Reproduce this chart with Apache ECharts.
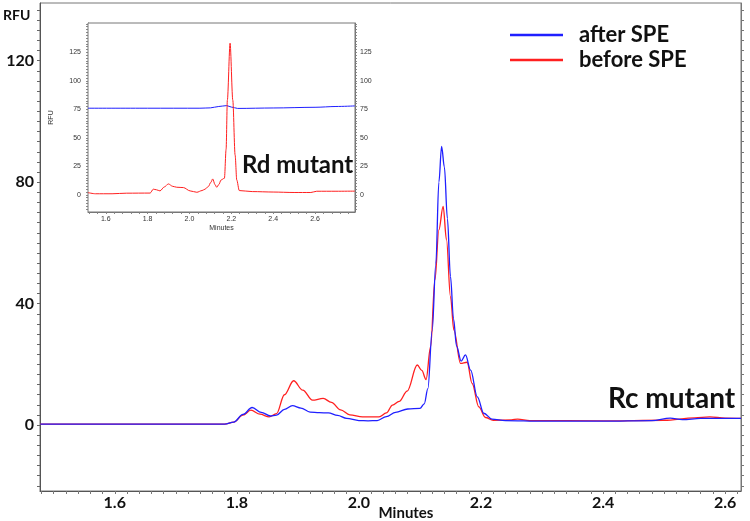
<!DOCTYPE html>
<html><head><meta charset="utf-8">
<script src="https://cdn.jsdelivr.net/npm/echarts@6/dist/echarts.min.js"></script>
<style>html,body{margin:0;padding:0;background:#fff}#c{width:750px;height:521px}</style>
</head><body><div id="c"></div>
<script>
// ---- Main chart data (Rc mutant) ----
const mainAfterX = [1.478,1.60,1.70,1.78,1.795,1.81,1.825,1.84,1.855,1.865,1.878,1.891,1.905,1.92,1.935,1.95,1.965,1.98,2.00,2.015,2.03,2.045,2.06,2.08,2.10,2.107,2.113,2.120,2.126,2.131,2.1355,2.140,2.145,2.150,2.155,2.160,2.1675,2.1746,2.183,2.194,2.2046,2.218,2.24,2.30,2.40,2.48,2.51,2.53,2.56,2.60,2.626];
const mainAfterY = [0.3,0.3,0.3,0.3,1.0,3.5,5.8,4.2,3.0,3.3,5.2,6.4,5.6,4.3,4.1,4.0,3.2,2.2,1.5,1.4,1.5,2.8,4.2,5.3,5.5,7.0,12,31,53,80,91.8,85,68,49,35,26,21.1,23.1,18.1,9.3,3.9,2.0,1.5,1.3,1.3,1.5,2.3,1.8,2.2,2.2,2.2];
const mainBeforeX = [1.478,1.78,1.795,1.81,1.823,1.838,1.853,1.865,1.878,1.893,1.908,1.924,1.9415,1.955,1.97,1.985,2.006,2.033,2.045,2.055,2.066,2.079,2.0956,2.103,2.110,2.1175,2.1245,2.131,2.138,2.1435,2.150,2.1556,2.1665,2.1773,2.1855,2.1964,2.2074,2.22,2.25,2.26,2.28,2.40,2.50,2.55,2.575,2.60,2.626];
const mainBeforeY = [0.3,0.3,1.0,3.3,4.9,3.6,2.7,3.8,10,14.6,11.5,8.2,8.8,7.5,5.0,3.4,2.7,2.7,4.0,6.6,7.8,11.2,19.8,18,15.0,25.8,47.8,64.3,72,61,42.3,31.3,20.3,20.7,13.7,6.0,2.5,1.6,1.7,2.0,1.5,1.4,1.6,2.4,2.7,2.3,2.2];

// ---- Inset data (Rd mutant) ----
const insetAfterX = [1.515,1.80,2.05,2.10,2.14,2.178,2.20,2.23,2.40,2.60,2.70,2.79];
const insetAfterY = [76,76,76,76.3,77.5,78.3,77,75.8,76.2,76.8,77.5,78];
const insetBeforeX = [1.515,1.55,1.63,1.70,1.812,1.827,1.842,1.859,1.88,1.899,1.92,1.939,1.971,2.003,2.035,2.06,2.074,2.090,2.102,2.111,2.122,2.130,2.140,2.151,2.167,2.175,2.181,2.194,2.207,2.218,2.226,2.238,2.30,2.40,2.50,2.58,2.608,2.70,2.79];
const insetBeforeY = [2,1,1,1.5,1.6,5,4.5,3.5,7,9.6,7.5,6.7,6.4,3.5,2.3,3.8,5,7.3,11,14,9,6.7,9,13.1,14.6,40,83,133,83,35,13,3.8,2.9,2.5,2.1,2.1,3.2,3.2,3.3];

// ---- Axis ticks ----
const mainXTicks = [1.6,1.8,2.0,2.2,2.4,2.6];
const mainYTicks = [0,40,80,120];
const insetXTicks = [1.6,1.8,2.0,2.2,2.4,2.6];
const insetYTicks = [0,25,50,75,100,125];
const seriesNames = ['after SPE','before SPE'];

const BLUE = '#1f1fff', RED = '#ff2020';
const zip = (xs, ys) => xs.map((x, i) => [x, ys[i]]);
function steps(lo, hi, step) { const a = []; for (let v = lo; v <= hi + 1e-9; v += step) a.push(+v.toFixed(4)); return a; }

const MX = [1.4775, 2.626], MY = [-21.7, 139];
const IX = [1.515, 2.791], IY = [-15, 150.7];

const mainXMinor = steps(1.48, 2.62, 0.02);
const mainYMinor = steps(-20, 136.7, 40 / 12);
const insetYMinor = steps(-12.5, 150, 2.5);

const chart = echarts.init(document.getElementById('c'), null, {renderer: 'canvas'});
const big = {fontFamily: 'Lato', fontWeight: 'bold', color: '#111'};
const small = {fontFamily: 'Liberation Sans', fontSize: 7, color: '#333'};

chart.setOption({
  animation: false,
  backgroundColor: '#fff',
  grid: [
    {left: 40, top: 3, right: 9, bottom: 30, show: true, borderColor: '#777', borderWidth: 1, containLabel: false, outerBoundsMode: 'none'},
    {left: 88, top: 23, width: 267, height: 189, show: true, backgroundColor: '#fff', borderColor: '#777', borderWidth: 1, z: 5, containLabel: false, outerBoundsMode: 'none'}
  ],
  legend: {
    data: seriesNames, orient: 'vertical', left: 505, top: 18, itemWidth: 53, itemHeight: 2.5, itemGap: 1,
    icon: 'rect',
    textStyle: {fontFamily: 'Lato', fontWeight: 'bold', fontSize: 22, lineHeight: 24, color: '#111', padding: [0, 0, 0, 11]}
  },
  xAxis: [
    {type: 'value', gridIndex: 0, min: MX[0], max: MX[1],
     axisLine: {show: true, onZero: false, lineStyle: {color: '#555'}},
     axisTick: {show: true, customValues: mainXMinor, length: 3, lineStyle: {color: '#777'}},
     axisLabel: {customValues: mainXTicks, ...big, fontSize: 16, margin: 4, formatter: v => v.toFixed(1)},
     splitLine: {show: false},
     name: 'Minutes', nameLocation: 'middle', nameGap: 15, nameMoveOverlap: false,
     nameTextStyle: {...big, fontSize: 15, padding: [0, 0, 0, 31]}},
    {type: 'value', gridIndex: 1, min: IX[0], max: IX[1],
     axisLine: {show: true, onZero: false, lineStyle: {color: '#777'}},
     axisTick: {show: true, customValues: steps(1.52, 2.78, 0.04), length: 2, lineStyle: {color: '#888'}},
     axisLabel: {customValues: insetXTicks, ...small, margin: 4, formatter: v => v.toFixed(1)},
     splitLine: {show: false},
     name: 'Minutes', nameLocation: 'middle', nameGap: 13, nameMoveOverlap: false, nameTextStyle: {...small}}
  ],
  yAxis: [
    {type: 'value', gridIndex: 0, min: MY[0], max: MY[1],
     axisLine: {show: true, onZero: false, lineStyle: {color: '#555'}},
     axisTick: {show: true, customValues: mainYMinor, length: 3, lineStyle: {color: '#666'}},
     axisLabel: {customValues: mainYTicks, ...big, fontSize: 16, margin: 6},
     splitLine: {show: false}},
    {type: 'value', gridIndex: 0, min: MY[0], max: MY[1], position: 'right',
     axisLine: {show: true, onZero: false, lineStyle: {color: '#777'}},
     axisTick: {show: true, customValues: mainYMinor, length: 3, lineStyle: {color: '#777'}},
     axisLabel: {show: false}, splitLine: {show: false}},
    {type: 'value', gridIndex: 1, min: IY[0], max: IY[1],
     axisLine: {show: true, onZero: false, lineStyle: {color: '#777'}},
     axisTick: {show: true, customValues: insetYMinor, length: 2, lineStyle: {color: '#888'}},
     axisLabel: {customValues: insetYTicks, ...small, margin: 7},
     splitLine: {show: false},
     name: 'RFU', nameLocation: 'middle', nameGap: 33, nameRotate: 90, nameMoveOverlap: false, nameTextStyle: {...small}},
    {type: 'value', gridIndex: 1, min: IY[0], max: IY[1], position: 'right',
     axisLine: {show: true, onZero: false, lineStyle: {color: '#777'}},
     axisTick: {show: true, customValues: insetYMinor, length: 2, lineStyle: {color: '#888'}},
     axisLabel: {customValues: insetYTicks, ...small, margin: 5},
     splitLine: {show: false}}
  ],
  series: [
    {name: seriesNames[1], type: 'line', xAxisIndex: 0, yAxisIndex: 0, data: zip(mainBeforeX, mainBeforeY),
     showSymbol: false, smooth: 0.35, smoothMonotone: 'x', lineStyle: {color: RED, width: 1.3}, itemStyle: {color: RED}, z: 2},
    {name: seriesNames[0], type: 'line', xAxisIndex: 0, yAxisIndex: 0, data: zip(mainAfterX, mainAfterY),
     showSymbol: false, smooth: 0.35, smoothMonotone: 'x', lineStyle: {color: BLUE, width: 1.3}, itemStyle: {color: BLUE}, z: 2},
    {name: seriesNames[0], type: 'line', xAxisIndex: 1, yAxisIndex: 2, data: zip(insetAfterX, insetAfterY),
     showSymbol: false, smooth: 0.3, smoothMonotone: 'x', lineStyle: {color: BLUE, width: 1}, itemStyle: {color: BLUE}, z: 6},
    {name: seriesNames[1], type: 'line', xAxisIndex: 1, yAxisIndex: 2, data: zip(insetBeforeX, insetBeforeY),
     showSymbol: false, smooth: 0.3, smoothMonotone: 'x', lineStyle: {color: RED, width: 1}, itemStyle: {color: RED}, z: 6}
  ],
  graphic: [
    {type: 'text', left: 3, top: 8, z: 10, style: {text: 'RFU', font: 'bold 14px Lato', fill: '#111'}},
    {type: 'text', left: 242, top: 153, z: 10, style: {text: 'Rd mutant', font: 'bold 24px Lato', fill: '#111'}},
    {type: 'text', left: 608, top: 385, z: 10, style: {text: 'Rc mutant', font: 'bold 28px Lato', fill: '#111'}}
  ]
});
</script></body></html>
